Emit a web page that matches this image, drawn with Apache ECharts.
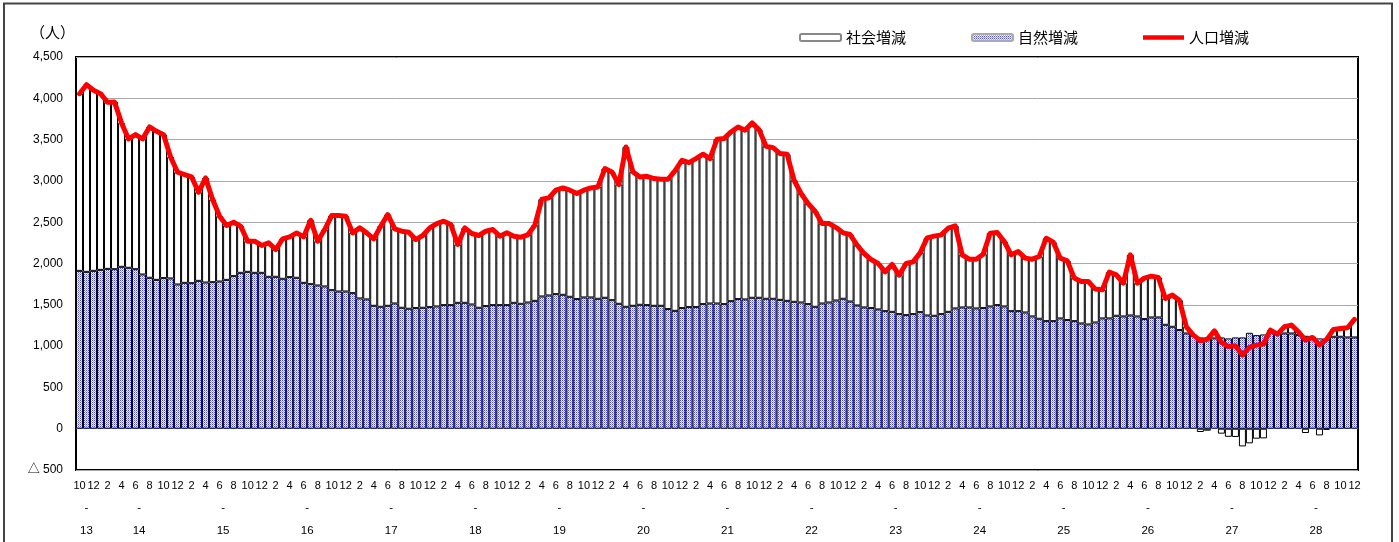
<!DOCTYPE html>
<html>
<head>
<meta charset="utf-8">
<script src="https://cdn.jsdelivr.net/npm/echarts@6/dist/echarts.min.js"></script>
<style>
html, body { margin: 0; padding: 0; background: #fff; }
#chart { width: 1399px; height: 542px; }
</style>
</head>
<body>
<div id="chart"></div>
<script>
// 平成13年10月 〜 平成28年12月（月次）
var startYear = 13;
var startMonth = 10;
var yearLabels = ['13', '14', '15', '16', '17', '18', '19', '20', '21', '22', '23', '24', '25', '26', '27', '28'];

// 自然増減
var natural = [
  1911, 1899, 1911, 1923, 1935, 1931, 1960, 1948, 1931, 1867, 1827, 1802, 1823, 1819, 1746, 1766, 1762, 1790, 1770, 1774, 1782, 1802, 1847, 1887, 1899, 1887, 1887, 1839, 1839, 1815, 1835, 1827,
  1766, 1750, 1734, 1722, 1677, 1661, 1661, 1641, 1577, 1565, 1488, 1476, 1488, 1516, 1464, 1452, 1460, 1464, 1472, 1480, 1496, 1496, 1524, 1524, 1504, 1464, 1484, 1496, 1496, 1496, 1524,
  1512, 1528, 1548, 1601, 1613, 1629, 1621, 1597, 1569, 1589, 1589, 1573, 1585, 1556, 1512, 1476, 1488, 1500, 1496, 1488, 1488, 1448, 1427, 1460, 1472, 1472, 1508, 1516, 1516, 1508,
  1544, 1569, 1565, 1585, 1585, 1573, 1573, 1560, 1548, 1536, 1528, 1508, 1476, 1516, 1528, 1552, 1573, 1540, 1492, 1468, 1460, 1444, 1423, 1415, 1387, 1375, 1387, 1411, 1371, 1367,
  1387, 1415, 1456, 1468, 1468, 1456, 1460, 1480, 1496, 1480, 1423, 1423, 1407, 1359, 1331, 1302, 1302, 1335, 1315, 1302, 1274, 1262, 1286, 1335, 1335, 1367, 1359, 1371, 1359, 1327,
  1347, 1347, 1258, 1234, 1194, 1153, 1125, 1105, 1105, 1093, 1105, 1093, 1105, 1105, 1161, 1133, 1141, 1161, 1145, 1153, 1153, 1133, 1125, 1105, 1093, 1093, 1113, 1113, 1105, 1105
];

// 人口増減
var total = [
  4056, 4165, 4097, 4056, 3952, 3956, 3702, 3508, 3560, 3508, 3653, 3600, 3560, 3290, 3105, 3077, 3048, 2863, 3036, 2774, 2573, 2460, 2500, 2452, 2270, 2270, 2218, 2250, 2169, 2298, 2323, 2370,
  2323, 2524, 2270, 2411, 2581, 2581, 2573, 2371, 2431, 2371, 2298, 2452, 2593, 2419, 2391, 2379, 2290, 2339, 2431, 2484, 2512, 2472, 2230, 2431, 2363, 2339, 2391, 2411, 2331, 2371, 2331,
  2319, 2347, 2464, 2778, 2794, 2887, 2915, 2887, 2847, 2887, 2915, 2927, 3149, 3109, 2956, 3411, 3109, 3048, 3056, 3028, 3020, 3020, 3121, 3250, 3222, 3270, 3323, 3270, 3504, 3512,
  3593, 3653, 3613, 3702, 3621, 3419, 3403, 3331, 3323, 3008, 2847, 2726, 2633, 2484, 2484, 2435, 2371, 2351, 2222, 2121, 2048, 2000, 1899, 1988, 1859, 2000, 2020, 2129, 2310, 2331,
  2347, 2427, 2456, 2105, 2052, 2052, 2113, 2367, 2375, 2266, 2105, 2145, 2065, 2052, 2085, 2306, 2258, 2065, 2032, 1823, 1782, 1782, 1690, 1681, 1895, 1863, 1762, 2105, 1762, 1823,
  1847, 1831, 1577, 1617, 1556, 1234, 1133, 1065, 1081, 1185, 1045, 995, 1005, 891, 984, 1012, 1024, 1194, 1145, 1234, 1254, 1173, 1073, 1105, 1012, 1081, 1202, 1214, 1222, 1323
];

// 社会増減 = 人口増減 - 自然増減
var social = total.map(function (t, i) { return t - natural[i]; });

var categories = [];
for (var i = 0; i < natural.length; i++) {
  var m = (startMonth - 1 + i) % 12 + 1;
  var y = startYear + Math.floor((startMonth - 1 + i) / 12);
  categories.push(y + '.' + m);
}

// 年ラベルの位置（各年の中央）
function yearAt(v) {
  if (Math.abs(v - 1.5) < 1e-6) return yearLabels[0];
  var k = (v - 9) / 12;
  if (k >= 0 && Math.abs(k - Math.round(k)) < 1e-6) return yearLabels[Math.round(k) + 1] || '';
  return '';
}

function fmtNum(v) {
  var s = String(Math.abs(v)).replace(/\B(?=(\d{3})+(?!\d))/g, ',');
  return v < 0 ? '△ ' + s : s;
}

// 網かけ（ドット）
var pat = document.createElement('canvas');
pat.width = 2; pat.height = 2;
var ctx = pat.getContext('2d');
ctx.fillStyle = '#ffffff';
ctx.fillRect(0, 0, 2, 2);
ctx.fillStyle = '#4848f2';
ctx.fillRect(0, 0, 1, 1);
ctx.fillStyle = '#a4a4f8';
ctx.fillRect(1, 1, 1, 1);

var font = '"Liberation Sans", Arial, "Noto Sans CJK JP", sans-serif';
var jp = '"Noto Sans CJK JP", sans-serif';

// 凡例の線（太さ5px相当）
var lineIcon = 'path://M0,0L44,0L44,0.01L0,0.01ZM0,1L44,1L44,6L0,6ZM0,6.99L44,6.99L44,7L0,7Z';

var myChart = echarts.init(document.getElementById('chart'));
myChart.setOption({
  animation: false,
  title: {
    text: '（人）',
    left: 30,
    top: 25,
    padding: 0,
    textStyle: { fontSize: 15, fontWeight: 'normal', color: '#000', fontFamily: jp }
  },
  legend: {
    left: 794,
    top: 25,
    itemWidth: 41,
    itemHeight: 7,
    itemGap: 65,
    textStyle: { fontSize: 15, color: '#000', fontFamily: jp },
    data: [
      { name: '社会増減', itemStyle: { borderColor: '#888' } },
      { name: '自然増減', itemStyle: { borderColor: '#aaa' } },
      { name: '人口増減', icon: lineIcon, itemStyle: { color: '#ff0000', borderWidth: 0 } }
    ]
  },
  grid: {
    left: 76,
    right: 41,
    top: 57,
    bottom: 72,
    show: true,
    borderColor: '#000',
    borderWidth: 2
  },
  xAxis: [
    {
      type: 'category',
      data: categories,
      axisLine: { show: false },
      axisTick: { show: false },
      splitLine: { show: false },
      axisLabel: {
        interval: 1,
        fontSize: 11,
        color: '#000',
        fontFamily: font,
        margin: 10,
        formatter: function (v) { return v.split('.')[1]; }
      }
    },
    {
      type: 'value',
      position: 'bottom',
      min: 0,
      max: natural.length,
      interval: 1.5,
      axisLine: { show: false },
      axisTick: { show: false },
      splitLine: { show: false },
      axisLabel: {
        fontSize: 11.5,
        color: '#000',
        fontFamily: font,
        lineHeight: 23,
        margin: 26,
        showMinLabel: true,
        showMaxLabel: true,
        formatter: function (v) {
          var t = yearAt(v);
          return t ? '-\n' + t : '';
        }
      }
    }
  ],
  yAxis: {
    type: 'value',
    min: -500,
    max: 4500,
    interval: 500,
    axisLine: { show: false },
    axisTick: { show: false },
    axisLabel: { fontSize: 12, color: '#000', fontFamily: font, margin: 13, formatter: fmtNum },
    splitLine: { lineStyle: { color: '#a8a8a8', width: 1 } }
  },
  series: [
    {
      name: '自然増減',
      type: 'bar',
      stack: 'pop',
      data: natural,
      barCategoryGap: '0%',
      itemStyle: { color: { image: pat, repeat: 'repeat' }, borderColor: '#000', borderWidth: 1 }
    },
    {
      name: '社会増減',
      type: 'bar',
      stack: 'pop',
      data: social,
      barCategoryGap: '0%',
      itemStyle: { color: '#fff', borderColor: '#000', borderWidth: 1 }
    },
    {
      name: '人口増減',
      type: 'line',
      data: total,
      symbol: 'none',
      z: 5,
      lineStyle: { color: '#ff0000', width: 5, cap: 'round', join: 'round' },
      itemStyle: { color: '#ff0000' }
    }
  ],
  graphic: [
    {
      type: 'rect',
      silent: true,
      shape: { x: 4, y: 3.5, width: 1388, height: 560 },
      style: { fill: 'none', stroke: '#444', lineWidth: 2 }
    }
  ]
});
</script>
</body>
</html>
